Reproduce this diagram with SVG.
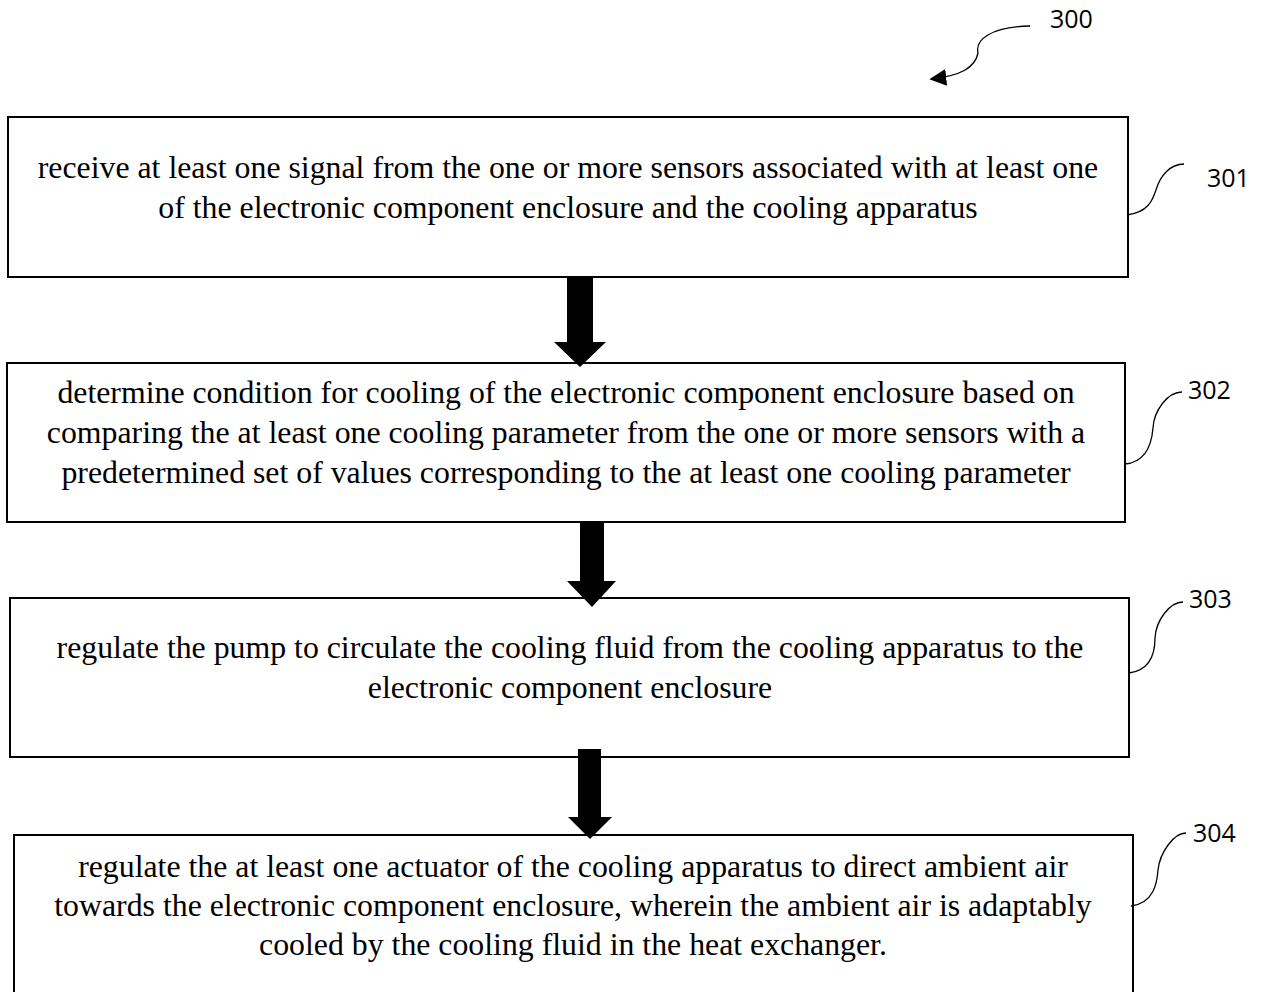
<svg xmlns="http://www.w3.org/2000/svg" width="1264" height="992" viewBox="0 0 1264 992">
<defs>
<style>
.box{fill:#fff;stroke:#000;stroke-width:2}
.t{font-family:"Liberation Serif","Times New Roman",serif;font-size:31.8px;fill:#000;text-anchor:middle}
.lbl{font-family:"Open Sans","Noto Sans",sans-serif;font-size:25px;fill:#000}
.lead{fill:none;stroke:#000;stroke-width:1.3}
.big{fill:#000;stroke:none}
</style>
<marker id="ah" viewBox="0 0 10 10" refX="9" refY="5" markerWidth="17" markerHeight="17" markerUnits="userSpaceOnUse" orient="auto">
<path d="M0,0 L10,5 L0,10 z" fill="#000"/>
</marker>
</defs>
<rect width="1264" height="992" fill="#fff"/>
<g id="n301">
<rect class="box" x="8" y="117" width="1120" height="160"/>
<text class="t" x="568" y="178">receive at least one signal from the one or more sensors associated with at least one</text>
<text class="t" x="568" y="218">of the electronic component enclosure and the cooling apparatus</text>
</g>
<g id="n302">
<rect class="box" x="7" y="363" width="1118" height="159"/>
<text class="t" x="566" y="403">determine condition for cooling of the electronic component enclosure based on</text>
<text class="t" x="566" y="443">comparing the at least one cooling parameter from the one or more sensors with a</text>
<text class="t" x="566" y="483">predetermined set of values corresponding to the at least one cooling parameter</text>
</g>
<g id="n303">
<rect class="box" x="10" y="598" width="1119" height="159"/>
<text class="t" x="570" y="658">regulate the pump to circulate the cooling fluid from the cooling apparatus to the</text>
<text class="t" x="570" y="698">electronic component enclosure</text>
</g>
<g id="n304">
<rect class="box" x="14" y="835" width="1119" height="170"/>
<text class="t" x="573" y="877">regulate the at least one actuator of the cooling apparatus to direct ambient air</text>
<text class="t" x="573" y="916">towards the electronic component enclosure, wherein the ambient air is adaptably</text>
<text class="t" x="573" y="955">cooled by the cooling fluid in the heat exchanger.</text>
</g>
<g id="connectors">
<polygon class="big" points="567,276 593,276 593,342 606,342 580,367 554,342 567,342"/>
<polygon class="big" points="580,522 604,522 604,581 616,581 592,607 567,581 580,581"/>
<polygon class="big" points="578,749 601,749 601,817 612,817 590,839 568,817 578,817"/>
</g>
<g id="labels">
<path class="lead" d="M1030,26 C990,27 975,40 978,53 C975,68 960,76 931,79" marker-end="url(#ah)"/>
<text class="lbl" x="1050" y="28">300</text>
<path class="lead" d="M1127,215 C1150,212 1153,198 1156,190 C1160,176 1170,164 1184,164"/>
<text class="lbl" x="1207" y="187">301</text>
<path class="lead" d="M1125,464 C1148,462 1152,440 1153,428 C1154,410 1168,392 1182,392"/>
<text class="lbl" x="1188" y="399">302</text>
<path class="lead" d="M1129,673 C1152,670 1155,650 1155,638 C1156,620 1170,602 1183,602"/>
<text class="lbl" x="1189" y="608">303</text>
<path class="lead" d="M1131,906 C1154,903 1157,883 1158,870 C1160,852 1174,833 1186,833"/>
<text class="lbl" x="1193" y="842">304</text>
</g>
</svg>
